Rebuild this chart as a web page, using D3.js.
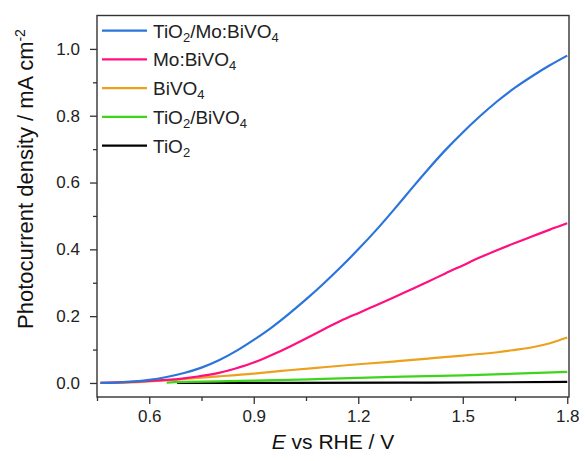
<!DOCTYPE html>
<meta charset="utf-8">
<style type="text/css">
body {
  margin: 0;
  font-family: "Liberation Sans", Arial, sans-serif;
  background: #fff;
}
.axis text {
  font-size: 17px;
  fill: #222;
}
.axis path,
.axis line {
  stroke: #333;
  stroke-width: 1.3px;
}
.title {
  fill: #111;
}
.legend text {
  font-size: 19px;
  fill: #222;
}
.curve {
  fill: none;
  stroke-width: 2.2px;
}
</style>
<body>
</body>

<script src="https://cdn.jsdelivr.net/npm/d3@7"></script>
<script>
// potentials (V vs RHE) and photocurrents (mA cm-2)
var eBlue  = [0.46, 0.5, 0.55, 0.6, 0.65, 0.7, 0.75, 0.8, 0.85, 0.9, 0.95, 1.0, 1.05, 1.1, 1.15, 1.2, 1.25, 1.3, 1.35, 1.4, 1.45, 1.5, 1.55, 1.6, 1.65, 1.7, 1.75, 1.8];
var jBlue  = [0, 0.001, 0.004, 0.009, 0.018, 0.03, 0.046, 0.068, 0.096, 0.129, 0.165, 0.206, 0.25, 0.297, 0.347, 0.4, 0.456, 0.516, 0.578, 0.639, 0.697, 0.75, 0.799, 0.844, 0.884, 0.919, 0.951, 0.98];

var ePink  = [0.46, 0.55, 0.65, 0.7, 0.75, 0.8, 0.85, 0.9, 0.95, 1.0, 1.05, 1.1, 1.15, 1.2, 1.25, 1.3, 1.35, 1.4, 1.45, 1.5, 1.55, 1.6, 1.65, 1.7, 1.75, 1.8];
var jPink  = [0, 0.003, 0.009, 0.014, 0.021, 0.03, 0.044, 0.061, 0.083, 0.107, 0.133, 0.16, 0.186, 0.209, 0.232, 0.255, 0.279, 0.303, 0.328, 0.352, 0.376, 0.398, 0.419, 0.439, 0.459, 0.478];

var eOrange = [0.46, 0.55, 0.6, 0.65, 0.7, 0.75, 0.8, 0.9, 1.0, 1.1, 1.2, 1.3, 1.4, 1.5, 1.6, 1.65, 1.7, 1.75, 1.8];
var jOrange = [0, 0.002, 0.005, 0.008, 0.012, 0.016, 0.02, 0.028, 0.038, 0.047, 0.056, 0.064, 0.073, 0.082, 0.092, 0.099, 0.107, 0.119, 0.136];

var eGreen = [0.65, 0.7, 0.8, 0.9, 1.1, 1.3, 1.5, 1.8];
var jGreen = [0.001, 0.003, 0.005, 0.007, 0.012, 0.018, 0.023, 0.033];

var eBlack = [0.68, 1.0, 1.4, 1.8];
var jBlack = [0, 0.0005, 0.001, 0.003];

var seriesNames = ["TiO2/Mo:BiVO4", "Mo:BiVO4", "BiVO4", "TiO2/BiVO4", "TiO2"];
var colors = ["#2b74dc", "#ff0f80", "#eda01c", "#3cd51a", "#000000"];

var xTicks = [0.6, 0.9, 1.2, 1.5, 1.8];
var yTicks = [0.0, 0.2, 0.4, 0.6, 0.8, 1.0];

var series = [
  { e: eBlue, j: jBlue },
  { e: ePink, j: jPink },
  { e: eOrange, j: jOrange },
  { e: eGreen, j: jGreen },
  { e: eBlack, j: jBlack }
];

var margin = { top: 15.5, right: 16, bottom: 64, left: 97 };
var width = 585 - margin.left - margin.right;
var height = 461 - margin.top - margin.bottom;

var svg = d3.select("body")
  .append("svg")
    .attr("width", 585)
    .attr("height", 461)
  .append("g")
    .attr("transform", "translate(" + margin.left + "," + margin.top + ")");

var xscale = d3.scaleLinear()
  .domain([0.45, 1.805])
  .range([0, width]);

var yscale = d3.scaleLinear()
  .domain([-0.042, 1.1])
  .range([height, 0]);

// minor ticks first, then major ones with labels
svg.append("g")
  .attr("class", "x axis")
  .attr("transform", "translate(0," + height + ")")
  .call(d3.axisBottom(xscale).tickValues([0.45, 0.75, 1.05, 1.35, 1.65]).tickSize(4).tickFormat(""));

svg.append("g")
  .attr("class", "x axis")
  .attr("transform", "translate(0," + height + ")")
  .call(d3.axisBottom(xscale).tickValues(xTicks).tickSize(7).tickPadding(6).tickFormat(d3.format(".1f")));

svg.append("g")
  .attr("class", "y axis")
  .call(d3.axisLeft(yscale).tickValues([0.1, 0.3, 0.5, 0.7, 0.9]).tickSize(4).tickFormat(""));

svg.append("g")
  .attr("class", "y axis")
  .call(d3.axisLeft(yscale).tickValues(yTicks).tickSize(7).tickPadding(10).tickFormat(d3.format(".1f")));

svg.selectAll(".axis .domain").remove();

// frame
svg.append("rect")
  .attr("width", width)
  .attr("height", height)
  .attr("fill", "none")
  .attr("stroke", "#333")
  .attr("stroke-width", 1.4);

var line = d3.line()
  .curve(d3.curveNatural)
  .x(function(d) { return xscale(d[0]); })
  .y(function(d) { return yscale(d[1]); });

// draw back to front so blue ends on top
series.slice().reverse().forEach(function(s, k) {
  var i = series.length - 1 - k;
  svg.append("path")
    .datum(d3.zip(s.e, s.j))
    .attr("class", "curve")
    .attr("stroke", colors[i])
    .attr("d", line);
});

// legend
var legend = svg.append("g")
  .attr("class", "legend")
  .attr("transform", "translate(5,15.2)");

function chem(sel, name) {
  // formula with subscripted digits
  name.split(/(\d)/).forEach(function(p) {
    if (p === "") return;
    if (/\d/.test(p)) {
      sel.append("tspan").attr("baseline-shift", "-30%").style("font-size", "13px").text(p);
    } else {
      sel.append("tspan").text(p);
    }
  });
}

seriesNames.forEach(function(n, i) {
  var g = legend.append("g").attr("transform", "translate(0," + (i * 28.75) + ")");
  g.append("line")
    .attr("x1", 0).attr("x2", 45)
    .attr("stroke", colors[i])
    .attr("stroke-width", 2.2);
  var t = g.append("text").attr("x", 51).attr("y", 7);
  chem(t, n);
});

// axis titles
var xt = svg.append("text")
  .attr("class", "title")
  .style("font-size", "21px")
  .attr("x", width / 2)
  .attr("y", height + 52)
  .attr("text-anchor", "middle");
xt.append("tspan").style("font-style", "italic").text("E");
xt.append("tspan").text(" vs RHE / V");

var yt = svg.append("text")
  .attr("class", "title")
  .style("font-size", "22px")
  .attr("transform", "translate(-64,163.5) rotate(-90)")
  .attr("text-anchor", "middle");
yt.append("tspan").text("Photocurrent density / mA cm");
yt.append("tspan").attr("baseline-shift", "super").style("font-size", "14px").text("-2");
</script>
